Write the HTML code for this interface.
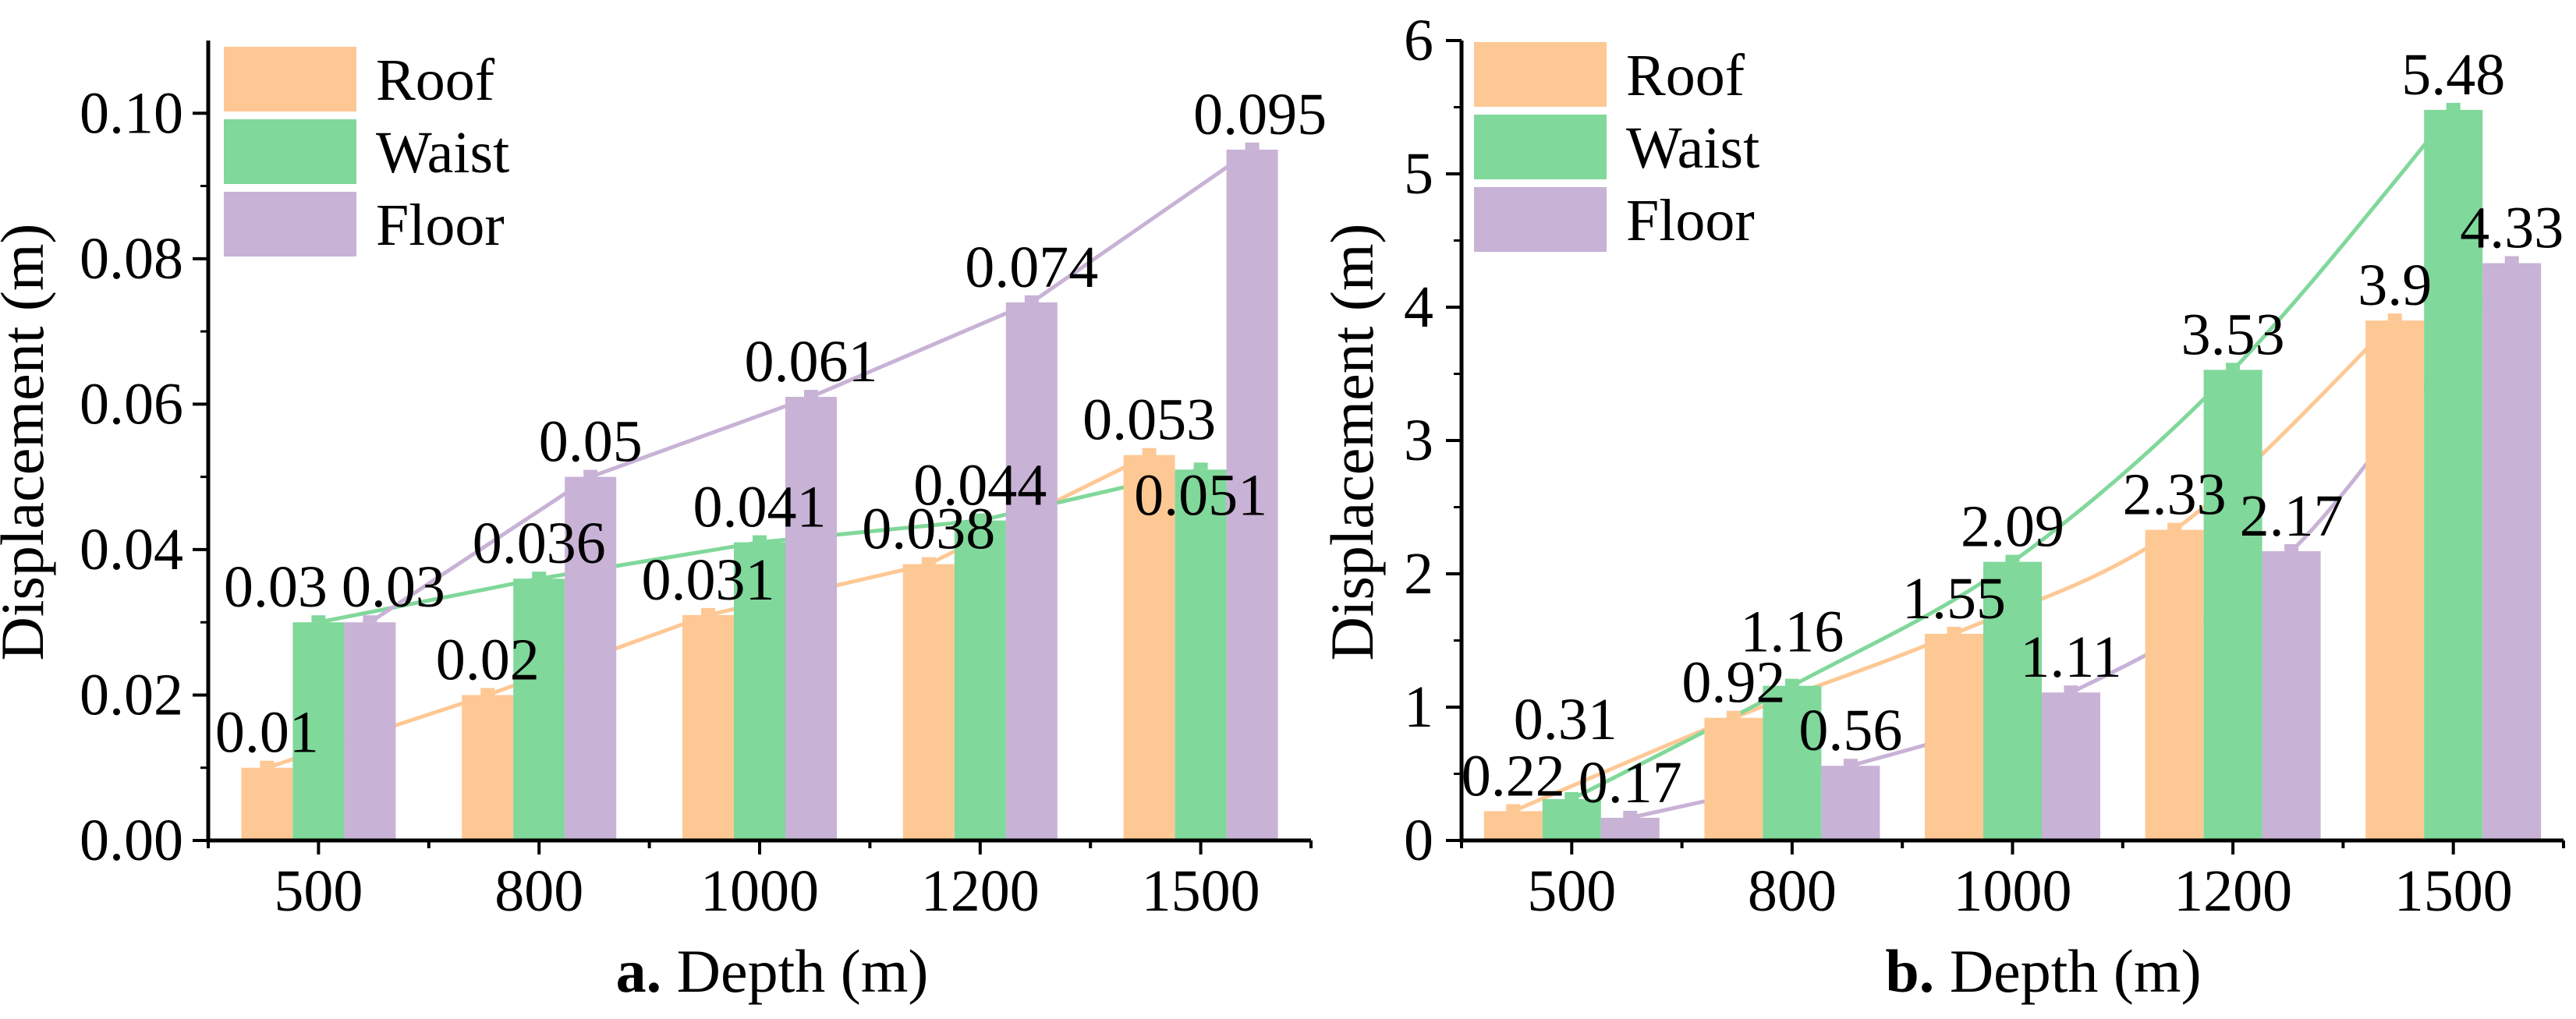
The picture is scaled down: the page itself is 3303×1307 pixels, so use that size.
<!DOCTYPE html>
<html><head><meta charset="utf-8"><style>
html,body{margin:0;padding:0;background:#fff;}
svg{display:block;}
svg text{font-family:"Liberation Serif","Times New Roman","DejaVu Serif",serif;fill:#000;}
</style></head><body>
<svg id="fig" width="3303" height="1307" viewBox="0 0 3303 1307" xmlns="http://www.w3.org/2000/svg" font-family="Liberation Serif, Times New Roman, serif"></svg>
<script>
const categories = ["500","800","1000","1200","1500"];
const seriesNames = ["Roof","Waist","Floor"];
const roofA = [0.01,0.02,0.031,0.038,0.053];
const waistA = [0.03,0.036,0.041,0.044,0.051];
const floorA = [0.03,0.05,0.061,0.074,0.095];
const roofB = [0.22,0.92,1.55,2.33,3.9];
const waistB = [0.31,1.16,2.09,3.53,5.48];
const floorB = [0.17,0.56,1.11,2.17,4.33];
const ticksA = ["0.00","0.02","0.04","0.06","0.08","0.10"];
const ticksB = ["0","1","2","3","4","5","6"];
const tickValsA = [0,0.02,0.04,0.06,0.08,0.10];
const tickValsB = [0,1,2,3,4,5,6];
const colors = ["#FEC894","#80D89A","#C8B2D6"];
const NS="http://www.w3.org/2000/svg";
const svg=document.getElementById('fig');
function mk(tag,attrs,parent){const e=document.createElementNS(NS,tag);for(const k in attrs)e.setAttribute(k,attrs[k]);if(tag==='text')e.setAttribute('font-family','Liberation Serif, Times New Roman, serif');(parent||svg).appendChild(e);return e;}

function drawChart(cfg){
  const g=mk('g',{});
  
  
  const x0=cfg.x0,x1=cfg.x1,yB=1078,yT=52;
  const step=(x1-x0)/categories.length;
  const bw=cfg.bw;
  const yS=v=>yB-(v-0)/(cfg.yMax)*(yB-yT);
  const cx=i=>x0+step*(i+0.5);
  const data=[cfg.s[0],cfg.s[1],cfg.s[2]];
  const bx=(i,k)=>cx(i)+(k-1)*bw;
  data.forEach((arr,k)=>{
    const pts=arr.map((v,i)=>[bx(i,k),yS(v)]);
    let d='M'+pts[0][0]+','+pts[0][1];
    if(cfg.smooth){
      for(let i=0;i<pts.length-1;i++){
        const p0=pts[Math.max(0,i-1)],p1=pts[i],p2=pts[i+1],p3=pts[Math.min(pts.length-1,i+2)];
        const c1=[p1[0]+(p2[0]-p0[0])/6,p1[1]+(p2[1]-p0[1])/6];
        const c2=[p2[0]-(p3[0]-p1[0])/6,p2[1]-(p3[1]-p1[1])/6];
        d+=' C'+c1+' '+c2+' '+p2;
      }
    } else pts.slice(1).forEach(p=>d+=' L'+p[0]+','+p[1]);
    const l=mk('path',{d:d,fill:'none',stroke:colors[k],'stroke-width':5},g);
    
    
  });
  data.forEach((arr,k)=>{
    arr.forEach((v,i)=>{
      const b=mk('rect',{x:bx(i,k)-bw/2,y:yS(v),width:bw,height:yB-yS(v),fill:colors[k]},g);
      
      
      const c=mk('rect',{x:bx(i,k)-9,y:yS(v)-9,width:18,height:9,fill:colors[k]},g);
      
      
    });
  });
  data.forEach((arr,k)=>{
    arr.forEach((v,i)=>{
      const ox=cfg.offX[k][i], oy=cfg.offY[k][i];
      const t=mk('text',{x:bx(i,k)+ox,y:yS(v)-20+oy,'font-size':76,'text-anchor':'middle'},g);
      t.textContent=String(v);
      
      
    });
  });
  const ax=mk('path',{d:`M${x0},${yT} L${x0},${yB} L${x1},${yB}`,fill:'none',stroke:'#000','stroke-width':5},g);
  
  
  cfg.tv.forEach((v,i)=>{
    const y=yS(v);
    mk('line',{x1:x0-20,x2:x0,y1:y,y2:y,stroke:'#000','stroke-width':4},g);
    const t=mk('text',{x:cfg.lblX,y:y+25,'font-size':76,'text-anchor':'end'},g);
    t.textContent=cfg.tl[i];
    
    
    if(i<cfg.tv.length-1){const ym=yS((v+cfg.tv[i+1])/2);mk('line',{x1:x0-10,x2:x0,y1:ym,y2:ym,stroke:'#000','stroke-width':3},g);}
  });
  categories.forEach((c,i)=>{
    mk('line',{x1:cx(i),x2:cx(i),y1:yB,y2:yB+18,stroke:'#000','stroke-width':4},g);
    const t=mk('text',{x:cx(i),y:1168,'font-size':76,'text-anchor':'middle'},g);
    t.textContent=c;
    
    
  });
  for(let i=0;i<=categories.length;i++){const x=x0+step*i;mk('line',{x1:x,x2:x,y1:yB,y2:yB+10,stroke:'#000','stroke-width':4},g);}
  seriesNames.forEach((n,k)=>{
    const y=cfg.legY+k*93;
    const r=mk('rect',{x:cfg.legX,y:y,width:170,height:83,fill:colors[k]},g);
    
    
    const t=mk('text',{x:cfg.legX+195,y:y+68,'font-size':76},g);
    t.textContent=n;
    
    
  });
  const yt=mk('text',{x:0,y:0,'font-size':78,'text-anchor':'middle',transform:`translate(${cfg.ytX},567) rotate(-90)`},g);
  yt.textContent='Displacement (m)';
  
  
  const xt=mk('text',{x:cfg.xtX,y:1272,'font-size':78,'text-anchor':'middle'},g);
  const b=mk('tspan',{'font-weight':'bold'},xt);b.textContent=cfg.letter+'  ';
  const r2=mk('tspan',{},xt);r2.textContent='Depth (m)';
  
  
}
drawChart({name:'chart-a',x0:267,x1:1681,bw:66,yMax:0.11,s:[roofA,waistA,floorA],tv:tickValsA,tl:ticksA,lblX:235,
  legX:287,legY:60,ytX:55,xtX:990,letter:'a.',smooth:false,
  offX:[[0,0,0,0,0],[-55,0,0,0,0],[30,0,0,0,10]],
  offY:[[0,0,0,0,0],[0,0,0,0,78],[0,0,0,0,0]]});
drawChart({name:'chart-b',x0:1874,x1:3287,bw:75,yMax:6,s:[roofB,waistB,floorB],tv:tickValsB,tl:ticksB,lblX:1838,
  legX:1890,legY:54,ytX:1760,xtX:2620,letter:'b.',smooth:true,
  offX:[[0,0,0,0,0],[-8,0,0,0,0],[0,0,0,0,0]],
  offY:[[0,0,0,0,0],[-57,-24,0,0,0],[0,0,0,0,0]]});
</script>
</body></html>
